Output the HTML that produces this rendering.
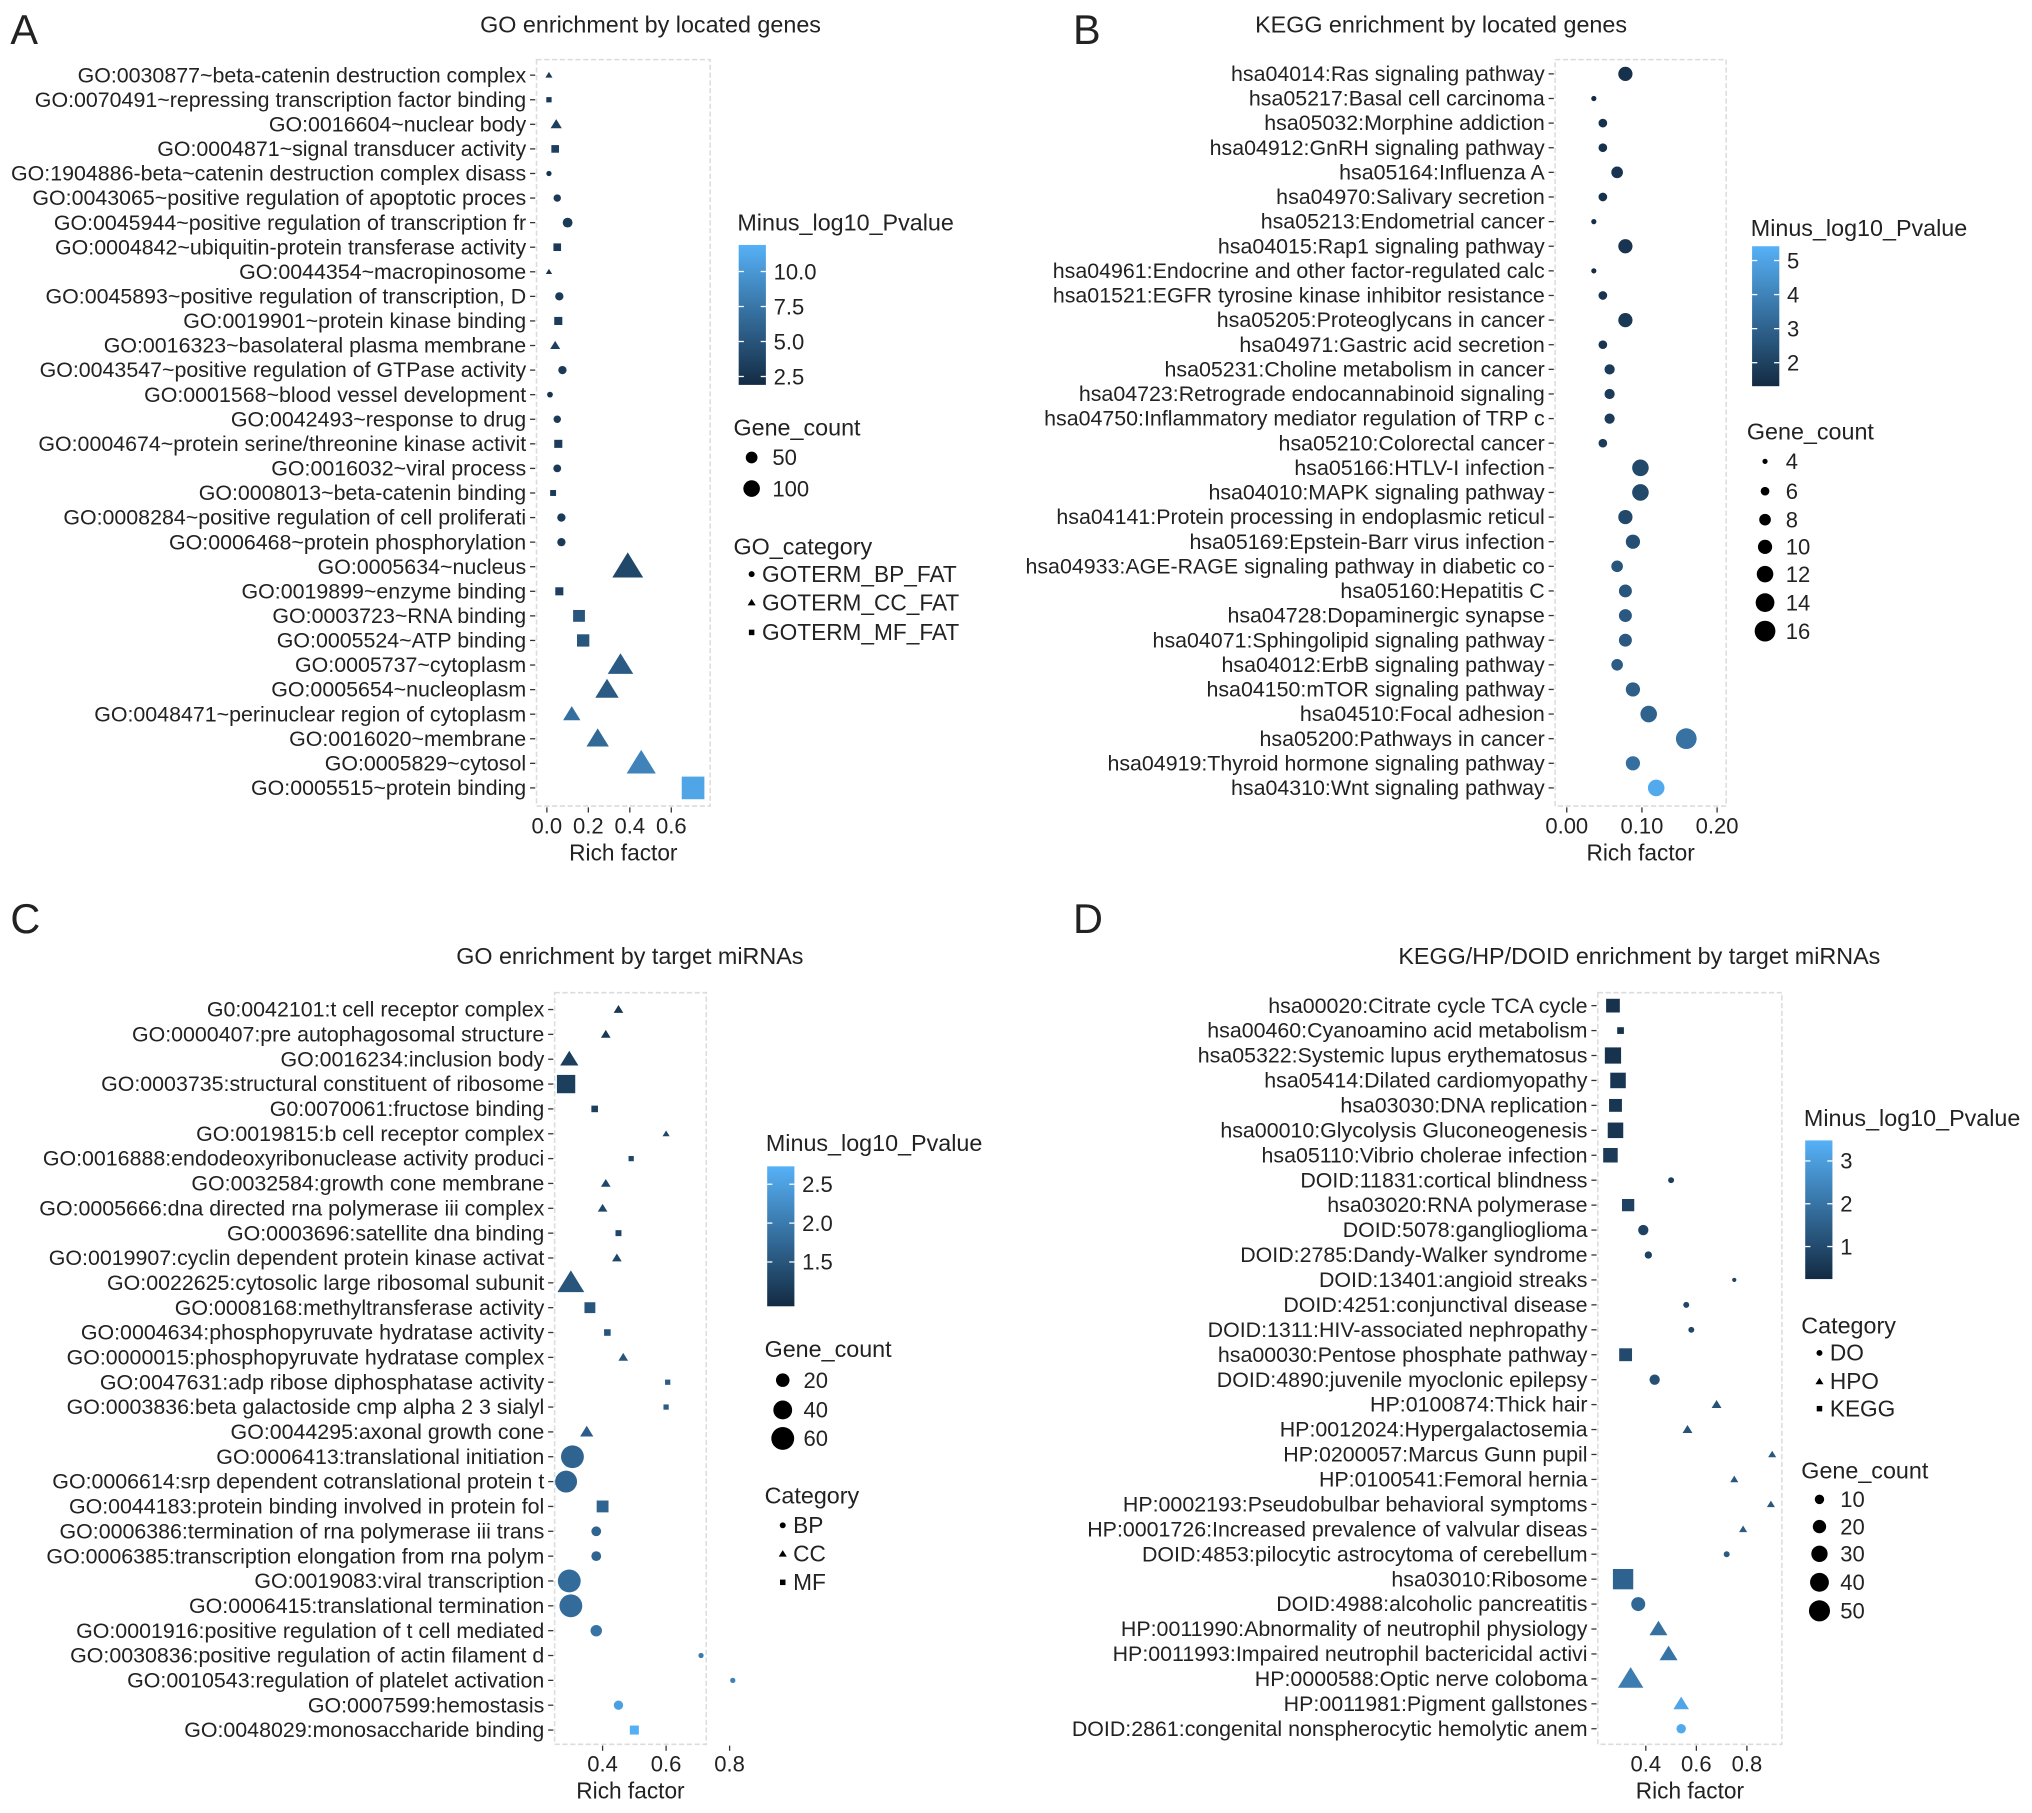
<!DOCTYPE html>
<html><head><meta charset="utf-8"><style>
html,body{margin:0;padding:0;background:#fff}
svg{display:block}
text{font-family:"Liberation Sans",Arial,sans-serif;fill:#222}
</style></head><body>
<svg id="fig" width="2032" height="1813" viewBox="0 0 1568 1399" xmlns="http://www.w3.org/2000/svg"></svg>
<script>
// ---------- Panel A data ----------
const aLabels=["GO:0030877~beta-catenin destruction complex","GO:0070491~repressing transcription factor binding","GO:0016604~nuclear body","GO:0004871~signal transducer activity","GO:1904886-beta~catenin destruction complex disass","GO:0043065~positive regulation of apoptotic proces","GO:0045944~positive regulation of transcription fr","GO:0004842~ubiquitin-protein transferase activity","GO:0044354~macropinosome","GO:0045893~positive regulation of transcription, D","GO:0019901~protein kinase binding","GO:0016323~basolateral plasma membrane","GO:0043547~positive regulation of GTPase activity","GO:0001568~blood vessel development","GO:0042493~response to drug","GO:0004674~protein serine/threonine kinase activit","GO:0016032~viral process","GO:0008013~beta-catenin binding","GO:0008284~positive regulation of cell proliferati","GO:0006468~protein phosphorylation","GO:0005634~nucleus","GO:0019899~enzyme binding","GO:0003723~RNA binding","GO:0005524~ATP binding","GO:0005737~cytoplasm","GO:0005654~nucleoplasm","GO:0048471~perinuclear region of cytoplasm","GO:0016020~membrane","GO:0005829~cytosol","GO:0005515~protein binding"];
const aRich=[0.01,0.01,0.045,0.04,0.01,0.05,0.1,0.05,0.01,0.06,0.055,0.04,0.075,0.015,0.05,0.055,0.05,0.03,0.07,0.07,0.39,0.06,0.155,0.175,0.355,0.29,0.12,0.245,0.455,0.705];
const aP=[3,3,3.5,3.5,2.5,3,3,3,2.5,3,3.2,3.5,3,2.5,3,3.2,3,3,3,3,4,3.5,5,5,5.5,5.5,7,6.5,8.5,11];
const aCount=[10,12,25,25,10,20,35,25,8,25,28,20,25,12,20,28,22,15,25,25,190,28,60,65,130,110,60,100,170,220];
const aCat=["CC","MF","CC","MF","BP","BP","BP","MF","CC","BP","MF","CC","BP","BP","BP","MF","BP","MF","BP","BP","CC","MF","MF","MF","CC","CC","CC","CC","CC","MF"];
// ---------- Panel B data ----------
const bLabels=["hsa04014:Ras signaling pathway","hsa05217:Basal cell carcinoma","hsa05032:Morphine addiction","hsa04912:GnRH signaling pathway","hsa05164:Influenza A","hsa04970:Salivary secretion","hsa05213:Endometrial cancer","hsa04015:Rap1 signaling pathway","hsa04961:Endocrine and other factor-regulated calc","hsa01521:EGFR tyrosine kinase inhibitor resistance","hsa05205:Proteoglycans in cancer","hsa04971:Gastric acid secretion","hsa05231:Choline metabolism in cancer","hsa04723:Retrograde endocannabinoid signaling","hsa04750:Inflammatory mediator regulation of TRP c","hsa05210:Colorectal cancer","hsa05166:HTLV-I infection","hsa04010:MAPK signaling pathway","hsa04141:Protein processing in endoplasmic reticul","hsa05169:Epstein-Barr virus infection","hsa04933:AGE-RAGE signaling pathway in diabetic co","hsa05160:Hepatitis C","hsa04728:Dopaminergic synapse","hsa04071:Sphingolipid signaling pathway","hsa04012:ErbB signaling pathway","hsa04150:mTOR signaling pathway","hsa04510:Focal adhesion","hsa05200:Pathways in cancer","hsa04919:Thyroid hormone signaling pathway","hsa04310:Wnt signaling pathway"];
const bRich=[0.078,0.036,0.048,0.048,0.067,0.048,0.036,0.078,0.036,0.048,0.078,0.048,0.057,0.057,0.057,0.048,0.098,0.098,0.078,0.088,0.067,0.078,0.078,0.078,0.067,0.088,0.109,0.159,0.088,0.119];
const bP=[1.5,1.3,1.5,1.5,1.6,1.5,1.4,1.6,1.4,1.6,1.7,1.6,1.8,1.8,1.8,1.8,2.2,2.2,2.2,2.4,2.6,2.6,2.7,2.7,2.8,2.9,3.0,3.5,3.4,5.2];
const bCount=[10,4,6,6,8,6,4,10,4,6,10,6,7,7,7,6,12,12,10,10,8,9,9,9,8,10,12,16,10,12];
// ---------- Panel C data ----------
const cLabels=["G0:0042101:t cell receptor complex","GO:0000407:pre autophagosomal structure","GO:0016234:inclusion body","GO:0003735:structural constituent of ribosome","G0:0070061:fructose binding","GO:0019815:b cell receptor complex","GO:0016888:endodeoxyribonuclease activity produci","GO:0032584:growth cone membrane","GO:0005666:dna directed rna polymerase iii complex","GO:0003696:satellite dna binding","GO:0019907:cyclin dependent protein kinase activat","GO:0022625:cytosolic large ribosomal subunit","GO:0008168:methyltransferase activity","GO:0004634:phosphopyruvate hydratase activity","GO:0000015:phosphopyruvate hydratase complex","GO:0047631:adp ribose diphosphatase activity","GO:0003836:beta galactoside cmp alpha 2 3 sialyl","GO:0044295:axonal growth cone","GO:0006413:translational initiation","GO:0006614:srp dependent cotranslational protein t","GO:0044183:protein binding involved in protein fol","GO:0006386:termination of rna polymerase iii trans","GO:0006385:transcription elongation from rna polym","GO:0019083:viral transcription","GO:0006415:translational termination","GO:0001916:positive regulation of t cell mediated","GO:0030836:positive regulation of actin filament d","GO:0010543:regulation of platelet activation","GO:0007599:hemostasis","GO:0048029:monosaccharide binding"];
const cRich=[0.45,0.41,0.295,0.285,0.375,0.6,0.49,0.41,0.40,0.45,0.445,0.30,0.36,0.415,0.465,0.605,0.60,0.35,0.305,0.285,0.40,0.38,0.38,0.295,0.30,0.38,0.71,0.81,0.45,0.50];
const cP=[1.1,1.1,1.2,1.2,1.2,1.3,1.3,1.3,1.3,1.3,1.3,1.5,1.5,1.5,1.5,1.6,1.6,1.6,1.7,1.7,1.7,1.7,1.7,1.8,1.8,1.9,2.0,2.1,2.5,2.7];
const cCount=[5,5,20,45,5,2.5,3,5,5,4,5,45,15,5,5,3,3,10,60,55,18,10,10,60,60,14,2.5,2.5,9,10];
const cCat=["CC","CC","CC","MF","MF","CC","MF","CC","CC","MF","CC","CC","MF","MF","CC","MF","MF","CC","BP","BP","MF","BP","BP","BP","BP","BP","BP","BP","BP","MF"];
// ---------- Panel D data ----------
const dLabels=["hsa00020:Citrate cycle TCA cycle","hsa00460:Cyanoamino acid metabolism","hsa05322:Systemic lupus erythematosus","hsa05414:Dilated cardiomyopathy","hsa03030:DNA replication","hsa00010:Glycolysis Gluconeogenesis","hsa05110:Vibrio cholerae infection","DOID:11831:cortical blindness","hsa03020:RNA polymerase","DOID:5078:ganglioglioma","DOID:2785:Dandy-Walker syndrome","DOID:13401:angioid streaks","DOID:4251:conjunctival disease","DOID:1311:HIV-associated nephropathy","hsa00030:Pentose phosphate pathway","DOID:4890:juvenile myoclonic epilepsy","HP:0100874:Thick hair","HP:0012024:Hypergalactosemia","HP:0200057:Marcus Gunn pupil","HP:0100541:Femoral hernia","HP:0002193:Pseudobulbar behavioral symptoms","HP:0001726:Increased prevalence of valvular diseas","DOID:4853:pilocytic astrocytoma of cerebellum","hsa03010:Ribosome","DOID:4988:alcoholic pancreatitis","HP:0011990:Abnormality of neutrophil physiology","HP:0011993:Impaired neutrophil bactericidal activi","HP:0000588:Optic nerve coloboma","HP:0011981:Pigment gallstones","DOID:2861:congenital nonspherocytic hemolytic anem"];
const dRich=[0.27,0.30,0.27,0.29,0.28,0.28,0.26,0.50,0.33,0.39,0.41,0.75,0.56,0.58,0.32,0.435,0.68,0.565,0.90,0.75,0.895,0.785,0.72,0.31,0.37,0.45,0.49,0.34,0.54,0.54];
const dP=[0.4,0.4,0.4,0.5,0.5,0.5,0.6,0.7,0.8,0.8,0.8,0.8,0.9,0.9,1.0,1.1,1.2,1.2,1.3,1.3,1.3,1.4,1.4,1.6,1.7,1.9,2.0,2.2,3.2,3.3];
const dCount=[25,6,35,32,22,32,28,4,20,12,6,2,4,4,22,12,6,6,4,4,4,4,4,55,22,20,20,40,15,10];
const dCat=["KEGG","KEGG","KEGG","KEGG","KEGG","KEGG","KEGG","DO","KEGG","DO","DO","DO","DO","DO","KEGG","DO","HPO","HPO","HPO","HPO","HPO","HPO","DO","KEGG","DO","HPO","HPO","HPO","HPO","DO"];

const NS="http://www.w3.org/2000/svg";
const svg=document.getElementById('fig');
function mk(tag,attrs,parent){const e=document.createElementNS(NS,tag);for(const k in attrs)e.setAttribute(k,attrs[k]);(parent||svg).appendChild(e);return e;}
function txt(s,x,y,size,anchor,parent){const t=mk('text',{x:x,y:y,'font-size':size,'text-anchor':anchor||'start'},parent);t.textContent=s;return t;}
function lerpColor(t){t=Math.max(0,Math.min(1,t));const a=[0x13,0x2B,0x43],b=[0x56,0xB1,0xF7];return 'rgb('+a.map((v,i)=>Math.round(v+(b[i]-v)*t)).join(',')+')';}
function shape(cat,x,y,r,fill,parent){
  if(cat==='BP'||cat==='DO'||cat==='circle')return mk('circle',{cx:x,cy:y,r:r,fill:fill},parent);
  if(cat==='MF'||cat==='KEGG'){const h=r*0.92;return mk('rect',{x:x-h,y:y-h,width:2*h,height:2*h,fill:fill},parent);}
  const s=r*1.25;return mk('polygon',{points:(x)+','+(y-s)+' '+(x+s*1.08)+','+(y+s*0.75)+' '+(x-s*1.08)+','+(y+s*0.75),fill:fill},parent);
}
function panel(cfg){
  const g=mk('g',{});
  
  
  const [x0,y0,x1,y1]=cfg.box;
  const box=mk('rect',{x:x0,y:y0,width:x1-x0,height:y1-y0,fill:'#fff',stroke:'#dcdcdc','stroke-width':1.2,'stroke-dasharray':'4 2'},g);
  
  
  const n=cfg.labels.length, step=(cfg.rowEnd-cfg.rowStart)/(n-1);
  const yPos=i=>cfg.rowStart+i*step;
  const xPos=v=>cfg.xOrigin+v*cfg.xUnit;
  const cs=v=>lerpColor((v-cfg.pmin)/(cfg.pmax-cfg.pmin));
  const tt=txt(cfg.title,cfg.titleX,cfg.titleY,18,'middle',g);
  
  
  const lt=txt(cfg.letter,cfg.letterX,cfg.letterY,32,'start',g);
  
  
  for(let i=0;i<n;i++){
    const y=yPos(i);
    const l=txt(cfg.labels[i],x0-8,y+5.5,16.5,'end',g);
    
    
    mk('line',{x1:x0-5,x2:x0-1,y1:y,y2:y,stroke:'#333','stroke-width':1},g);
  }
  for(let i=0;i<n;i++){
    const m=shape(cfg.cat?cfg.cat[i]:'circle',xPos(cfg.rich[i]),yPos(i),cfg.rad(cfg.count[i]),cs(cfg.p[i]),g);
    
    
  }
  cfg.ticks.forEach((t,k)=>{
    const x=xPos(t);
    mk('line',{x1:x,x2:x,y1:y1+1,y2:y1+5,stroke:'#333','stroke-width':1},g);
    const tl=txt(cfg.tickLabels[k],x,y1+21,17,'middle',g);
    
    
  });
  const xl=txt('Rich factor',(x0+x1)/2,y1+42,17.5,'middle',g);
  
  
  const L=cfg.cbar;
  const lg=txt('Minus_log10_Pvalue',L.x,L.titleY,18,'start',g);
  
  
  const gid='grad'+cfg.letter;
  const defs=mk('defs',{},g);const gr=mk('linearGradient',{id:gid,x1:0,y1:1,x2:0,y2:0},defs);
  mk('stop',{offset:0,'stop-color':cs(L.vBottom)},gr);mk('stop',{offset:1,'stop-color':cs(L.vTop)},gr);
  const cb=mk('rect',{x:L.x+1,y:L.top,width:21,height:L.bottom-L.top,fill:'url(#'+gid+')'},g);
  
  
  L.ticks.forEach((t,k)=>{
    const y=L.bottom-(t-L.vBottom)/(L.vTop-L.vBottom)*(L.bottom-L.top);
    mk('line',{x1:L.x+1,x2:L.x+5,y1:y,y2:y,stroke:'#fff'},g);mk('line',{x1:L.x+18,x2:L.x+22,y1:y,y2:y,stroke:'#fff'},g);
    const c=txt(L.labels[k],L.x+28,y+6,17,'start',g);
    
    
  });
  const S=cfg.sizeLeg;
  const st=txt('Gene_count',S.x,S.titleY,18,'start',g);
  
  
  S.vals.forEach((v,k)=>{
    const c=mk('circle',{cx:S.x+14,cy:S.ys[k],r:cfg.rad(v),fill:'#000'},g);
    
    
    const t=txt(String(v),S.x+30,S.ys[k]+6,17,'start',g);
    
    
  });
  if(cfg.catLeg){
    const C=cfg.catLeg;
    const ct=txt(C.title,C.x,C.titleY,18,'start',g);
    
    
    C.keys.forEach((k,i)=>{
      const s=shape(C.shapes[i],C.x+14,C.ys[i],2.3,'#000',g);
      
      
      const t=txt(k,C.x+22,C.ys[i]+6,17.5,'start',g);
      
      
    });
  }
}
panel({name:'panel-a-go-located-genes',letter:'A',letterX:8,letterY:34,title:'GO enrichment by located genes',titleX:502,titleY:25,
  box:[414,46,548,622],rowStart:58,rowEnd:608,xOrigin:422,xUnit:160,ticks:[0,0.2,0.4,0.6],tickLabels:['0.0','0.2','0.4','0.6'],
  labels:aLabels,rich:aRich,p:aP,count:aCount,cat:aCat,pmin:1.9,pmax:11.9,rad:c=>0.64*Math.sqrt(c),
  cbar:{x:569,titleY:178,top:189,bottom:297,vTop:11.9,vBottom:1.9,ticks:[10,7.5,5,2.5],labels:['10.0','7.5','5.0','2.5']},
  sizeLeg:{x:566,titleY:336,vals:[50,100],ys:[353,377]},
  catLeg:{x:566,title:'GO_category',titleY:428,keys:['GOTERM_BP_FAT','GOTERM_CC_FAT','GOTERM_MF_FAT'],shapes:['BP','CC','MF'],ys:[443,465,488]}});
panel({name:'panel-b-kegg-located-genes',letter:'B',letterX:828,letterY:34,title:'KEGG enrichment by located genes',titleX:1112,titleY:25,
  box:[1200,46,1332,622],rowStart:57,rowEnd:608,xOrigin:1209,xUnit:580,ticks:[0,0.1,0.2],tickLabels:['0.00','0.10','0.20'],
  labels:bLabels,rich:bRich,p:bP,count:bCount,cat:null,pmin:1.31,pmax:5.42,rad:c=>2+6*(Math.sqrt(c)-2)/2,
  cbar:{x:1351,titleY:182,top:190,bottom:298,vTop:5.42,vBottom:1.31,ticks:[5,4,3,2],labels:['5','4','3','2']},
  sizeLeg:{x:1348,titleY:339,vals:[4,6,8,10,12,14,16],ys:[356,379,401,422,443,465,487]}});
panel({name:'panel-c-go-target-mirnas',letter:'C',letterX:8,letterY:720,title:'GO enrichment by target miRNAs',titleX:486,titleY:744,
  box:[428,766,545,1346],rowStart:779,rowEnd:1335,xOrigin:367,xUnit:245,ticks:[0.4,0.6,0.8],tickLabels:['0.4','0.6','0.8'],
  labels:cLabels,rich:cRich,p:cP,count:cCount,cat:cCat,pmin:0.93,pmax:2.73,rad:c=>1.1*Math.sqrt(c)+0.3,
  cbar:{x:591,titleY:888,top:900,bottom:1008,vTop:2.73,vBottom:0.93,ticks:[2.5,2.0,1.5],labels:['2.5','2.0','1.5']},
  sizeLeg:{x:590,titleY:1047,vals:[20,40,60],ys:[1065,1088,1110]},
  catLeg:{x:590,title:'Category',titleY:1160,keys:['BP','CC','MF'],shapes:['BP','CC','MF'],ys:[1177,1199,1221]}});
panel({name:'panel-d-kegg-hp-doid-target-mirnas',letter:'D',letterX:828,letterY:720,title:'KEGG/HP/DOID enrichment by target miRNAs',titleX:1265,titleY:744,
  box:[1233,766,1375,1346],rowStart:776,rowEnd:1334,xOrigin:1192,xUnit:195,ticks:[0.4,0.6,0.8],tickLabels:['0.4','0.6','0.8'],
  labels:dLabels,rich:dRich,p:dP,count:dCount,cat:dCat,pmin:0.24,pmax:3.48,rad:c=>1.15*Math.sqrt(c),
  cbar:{x:1392,titleY:869,top:880,bottom:987,vTop:3.48,vBottom:0.24,ticks:[3,2,1],labels:['3','2','1']},
  sizeLeg:{x:1390,titleY:1141,vals:[10,20,30,40,50],ys:[1157,1178,1199,1221,1243]},
  catLeg:{x:1390,title:'Category',titleY:1029,keys:['DO','HPO','KEGG'],shapes:['DO','HPO','KEGG'],ys:[1044,1066,1087]}});
</script>
</body></html>
